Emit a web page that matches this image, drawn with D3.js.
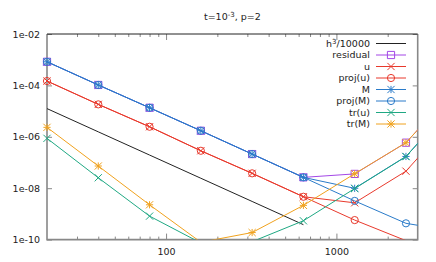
<!DOCTYPE html>
<html>
<head>
<meta charset="utf-8">
<script src="https://cdn.jsdelivr.net/npm/d3@7"></script>
<style>
  body { margin: 0; background: #fff; }
  text { font-family: "DejaVu Sans", sans-serif; }
</style>
</head>
<body>
<script>
'use strict';

const w = 436;
const h = 262;
const m = { left: 47, right: 18.3, top: 34, bottom: 22.4 };

// number of cells
const cells = [20, 40, 80, 160, 320, 640, 1280, 2560, 5120];
// errors
const h3 = [1.25e-5, 1.56e-6, 1.95e-7, 2.44e-8, 3.05e-9, 3.81e-10];
const residual = [8.3e-4, 1.04e-4, 1.35e-5, 1.72e-6, 2.13e-7, 2.64e-8, 3.6e-8, 5.9e-7, 8.9e-5];
const u = [1.48e-4, 1.83e-5, 2.46e-6, 2.86e-7, 3.79e-8, 4.65e-9, 2.7e-9, 4.6e-8, 7.6e-6];
const projU = [1.48e-4, 1.83e-5, 2.46e-6, 2.86e-7, 3.79e-8, 4.65e-9, 5.75e-10, 9.1e-11];
const M = [8.3e-4, 1.04e-4, 1.35e-5, 1.72e-6, 2.13e-7, 2.64e-8, 9.9e-9, 1.72e-7, 2.8e-5];
const projM = [8.3e-4, 1.04e-4, 1.35e-5, 1.72e-6, 2.13e-7, 2.64e-8, 3.2e-9, 4.3e-10, 2.0e-10];
const trU = [8.7e-7, 2.55e-8, 8.2e-10, 7.4e-11, 8.3e-11, 5.4e-10, 9.7e-9, 1.7e-7, 2.8e-5];
const trM = [2.33e-6, 7.3e-8, 2.26e-9, 7.9e-11, 1.88e-10, 2.15e-9, 3.65e-8, 5.9e-7, 8.9e-5];

const xTicks = [100, 1000];
const xMinor = [30, 40, 50, 60, 70, 80, 90, 200, 300, 400, 500, 600, 700, 800, 900, 2000];
const yTicks = [1e-2, 1e-4, 1e-6, 1e-8, 1e-10];

const series = [
  { name: 'h3', vals: h3, color: '#222', mark: null },
  { name: 'residual', vals: residual, color: '#a347e6', mark: 'square' },
  { name: 'u', vals: u, color: '#e8392c', mark: 'cross' },
  { name: 'proj(u)', vals: projU, color: '#e8392c', mark: 'circle' },
  { name: 'M', vals: M, color: '#2a7bc9', mark: 'star' },
  { name: 'proj(M)', vals: projM, color: '#2a7bc9', mark: 'circle' },
  { name: 'tr(u)', vals: trU, color: '#1fa883', mark: 'cross' },
  { name: 'tr(M)', vals: trM, color: '#f0a21e', mark: 'star' }
];

const x = d3.scaleLog().domain([20, 3000]).range([m.left, w - m.right]);
const y = d3.scaleLog().domain([1e-10, 1e-2]).range([h - m.bottom, m.top]);

const svg = d3.select('body').append('svg').attr('width', w).attr('height', h);

svg.append('defs').append('clipPath').attr('id', 'clip')
  .append('rect')
  .attr('x', m.left).attr('y', m.top)
  .attr('width', w - m.left - m.right).attr('height', h - m.top - m.bottom);

// axes
const yFmt = (d) => '1e-' + String(-Math.round(Math.log10(d))).padStart(2, '0');

function styleAxis(g, col) {
  g.select('.domain').remove();
  g.selectAll('line').attr('stroke', col);
  g.selectAll('text').attr('font-size', '9.5px').attr('fill', '#222').attr('font-family', '"DejaVu Sans", sans-serif');
}

svg.append('g').attr('transform', `translate(0,${h - m.bottom})`)
  .call(d3.axisBottom(x).tickValues(xTicks).tickFormat(d3.format('d')).tickSizeInner(-6).tickPadding(9))
  .call((g) => styleAxis(g, '#888'));
svg.append('g').attr('transform', `translate(0,${h - m.bottom})`)
  .call(d3.axisBottom(x).tickValues(xMinor).tickFormat('').tickSizeInner(-3))
  .call((g) => styleAxis(g, '#888'));
svg.append('g').attr('transform', `translate(0,${m.top})`)
  .call(d3.axisTop(x).tickValues(xTicks).tickFormat('').tickSizeInner(-6))
  .call((g) => styleAxis(g, '#888'));
svg.append('g').attr('transform', `translate(0,${m.top})`)
  .call(d3.axisTop(x).tickValues(xMinor).tickFormat('').tickSizeInner(-3))
  .call((g) => styleAxis(g, '#888'));
svg.append('g').attr('transform', `translate(${m.left},0)`)
  .call(d3.axisLeft(y).tickValues(yTicks).tickFormat(yFmt).tickSizeInner(-5).tickPadding(7))
  .call((g) => styleAxis(g, '#888'));
svg.append('g').attr('transform', `translate(${w - m.right},0)`)
  .call(d3.axisRight(y).tickValues(yTicks).tickFormat('').tickSizeInner(-5))
  .call((g) => styleAxis(g, '#888'));

// border
const x0 = m.left, x1 = w - m.right, y0 = m.top, y1 = h - m.bottom;
svg.append('path').attr('d', `M${x0},${y0}V${y1}H${x1}V${y0}`)
  .attr('fill', 'none').attr('stroke', '#888').attr('stroke-width', 1.6);
svg.append('line').attr('x1', x0).attr('x2', x1).attr('y1', y0).attr('y2', y0)
  .attr('stroke', '#222').attr('stroke-width', 1);

// markers
function marker(g, type, cx, cy, color) {
  const s = 3.6;
  const add = (d) => g.append('path').attr('d', d).attr('fill', 'none')
    .attr('stroke', color).attr('stroke-width', 1);
  if (type === 'square') add(`M${cx - s},${cy - s}h${2 * s}v${2 * s}h${-2 * s}Z`);
  if (type === 'circle') g.append('circle').attr('cx', cx).attr('cy', cy).attr('r', s)
    .attr('fill', 'none').attr('stroke', color).attr('stroke-width', 1);
  if (type === 'cross') add(`M${cx - s},${cy - s}L${cx + s},${cy + s}M${cx - s},${cy + s}L${cx + s},${cy - s}`);
  if (type === 'star') add(`M${cx - s},${cy - s}L${cx + s},${cy + s}M${cx - s},${cy + s}L${cx + s},${cy - s}M${cx - s},${cy}H${cx + s}M${cx},${cy - s}V${cy + s}`);
}

const line = d3.line().x((d) => x(d[0])).y((d) => y(d[1]));
const plot = svg.append('g');

series.forEach((s) => {
  const pts = s.vals.map((v, i) => [cells[i], v]);
  plot.append('path').datum(pts)
    .attr('clip-path', 'url(#clip)')
    .attr('d', line)
    .attr('fill', 'none')
    .attr('stroke', s.color)
    .attr('stroke-width', 1);
  if (s.mark) {
    const g = plot.append('g');
    pts.filter((d) => d[0] >= 20 && d[0] <= 3000 && d[1] >= 1e-10 && d[1] <= 1e-2)
      .forEach((d) => marker(g, s.mark, x(d[0]), y(d[1]), s.color));
  }
});

// legend
const leg = svg.append('g');
series.forEach((s, i) => {
  const ly = 43.5 + i * 11.5;
  const t = leg.append('text').attr('x', 370).attr('y', ly).attr('dy', '0.35em')
    .attr('text-anchor', 'end').attr('font-size', '9.5px').attr('fill', '#222');
  if (s.name === 'h3') {
    t.append('tspan').text('h');
    t.append('tspan').attr('font-size', '7px').attr('dy', '-0.45em').text('3');
    t.append('tspan').attr('dy', '0.3em').text('/10000');
  } else {
    t.text(s.name);
  }
  leg.append('line').attr('x1', 376).attr('x2', 406).attr('y1', ly).attr('y2', ly)
    .attr('stroke', s.color).attr('stroke-width', 1);
  if (s.mark) marker(leg, s.mark, 391, ly, s.color);
});

// title
const title = svg.append('text').attr('x', (x0 + x1) / 2).attr('y', 17).attr('dy', '0.35em')
  .attr('text-anchor', 'middle').attr('font-size', '9.5px').attr('fill', '#222');
title.append('tspan').text('t=10');
title.append('tspan').attr('font-size', '7px').attr('dy', '-0.45em').text('-3');
title.append('tspan').attr('dy', '0.3em').text(', p=2');
</script>
</body>
</html>
